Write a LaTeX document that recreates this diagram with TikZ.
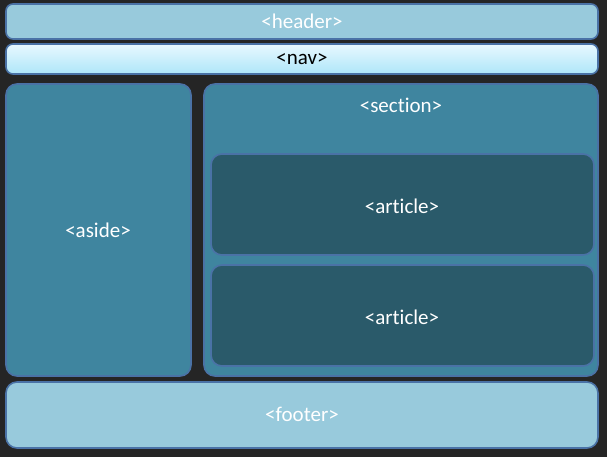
\documentclass[tikz,border=0pt]{standalone}
\usepackage{fontspec}
\setmainfont{Carlito}[Ligatures=NoCommon]
\definecolor{bg}{HTML}{252525}
\definecolor{lightbox}{HTML}{98CADC}
\definecolor{navtop}{HTML}{E8F8FF}
\definecolor{navbot}{HTML}{AEE6F9}
\definecolor{midbox}{HTML}{3F859F}
\definecolor{darkbox}{HTML}{2A5A6A}
\definecolor{edge}{HTML}{4A72A6}
\tikzset{
  panel/.style={draw=edge, line width=1.6pt, rounded corners=11pt},
  lbl/.style={font=\fontsize{21}{25}\selectfont, text=white, inner sep=0pt},
}
\begin{document}
\begin{tikzpicture}[x=1pt,y=-1pt]
\fill[bg] (0,0) rectangle (607,457);
\useasboundingbox (0,0) rectangle (607,457);
% header
\draw[panel, fill=lightbox, rounded corners=7pt] (6,4) rectangle (598,39);
\node[lbl] (header) at (302,21) {<header>};
% nav
\draw[panel, top color=navtop, bottom color=navbot, rounded corners=7pt] (6,44) rectangle (598,74);
\node[lbl, text=black] (nav) at (302,59) {<nav>};
% aside
\draw[panel, fill=midbox] (6,84) rectangle (191,376);
\node[lbl] (aside) at (98,230) {<aside>};
% section
\draw[panel, fill=midbox] (204,84) rectangle (598,376);
\node[lbl] (section) at (401,105) {<section>};
% articles
\draw[panel, fill=darkbox] (211,154) rectangle (594,255);
\node[lbl] (article1) at (402,206) {<article>};
\draw[panel, fill=darkbox] (211,265) rectangle (594,366);
\node[lbl] (article2) at (402,317) {<article>};
% footer
\draw[panel, fill=lightbox] (6,382) rectangle (598,448);
\node[lbl] (footer) at (302,414) {<footer>};
\end{tikzpicture}
\end{document}
